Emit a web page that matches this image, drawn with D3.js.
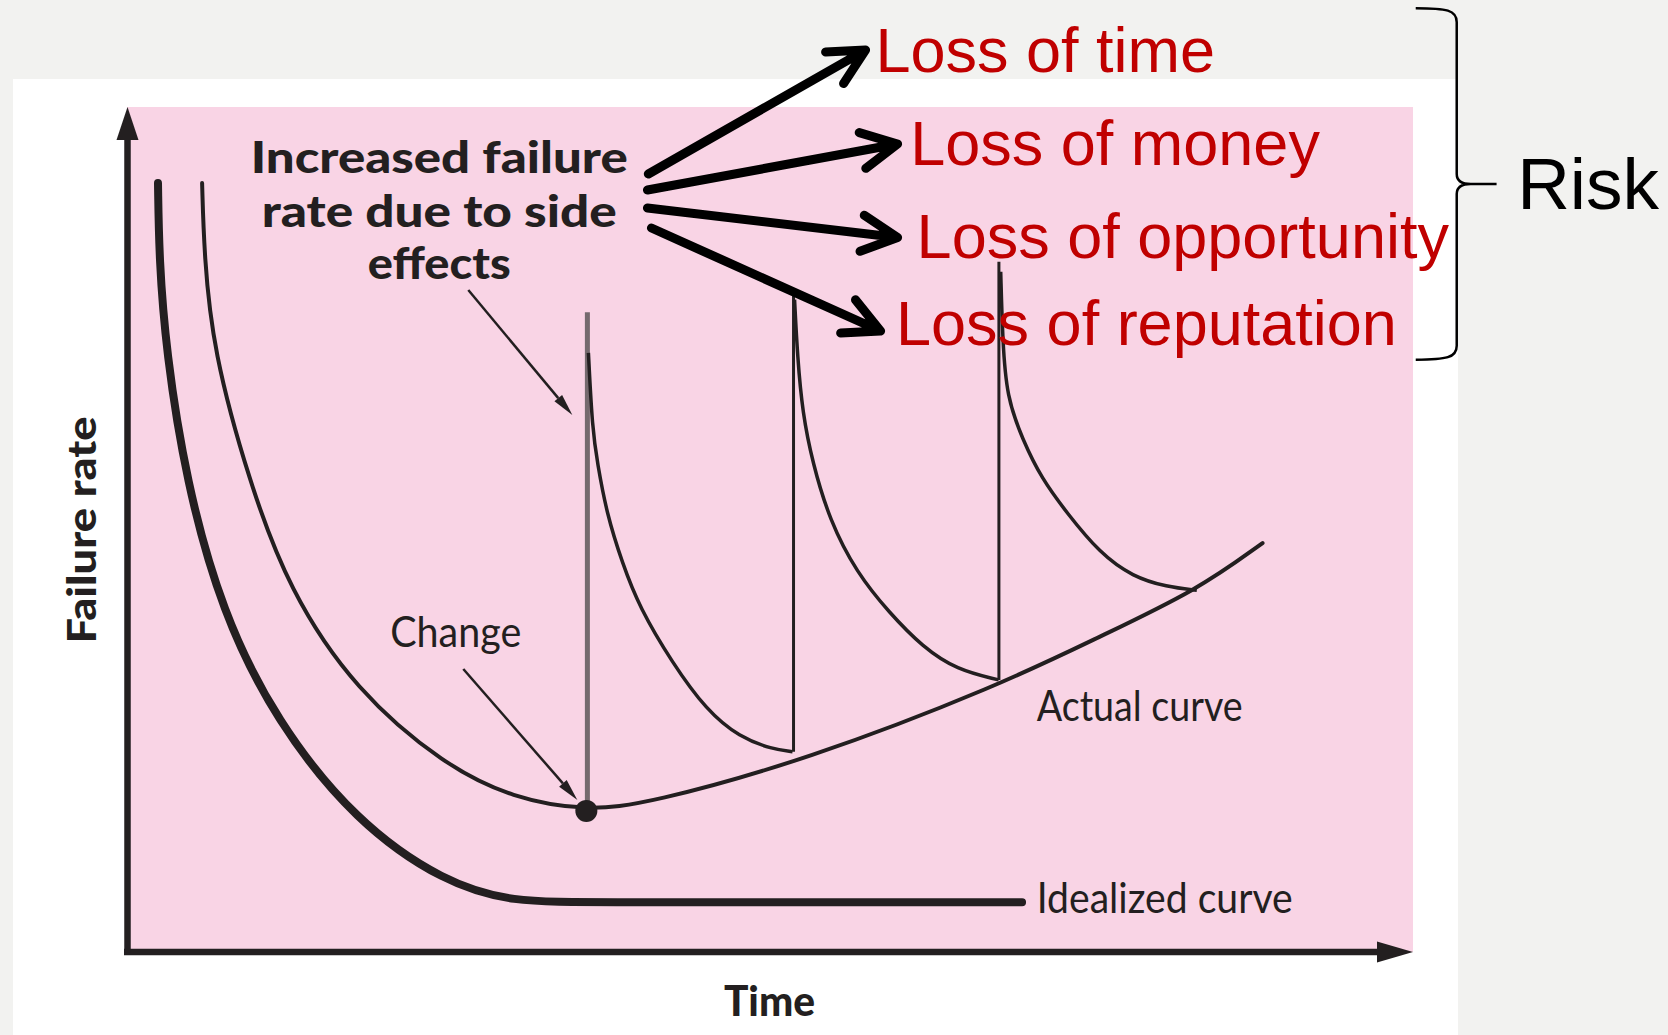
<!DOCTYPE html>
<html>
<head>
<meta charset="utf-8">
<script src="https://cdn.jsdelivr.net/npm/d3@7"></script>
<style>
  body { margin: 0; background: #f2f2f0; }
  svg { display: block; }
  .diag { font-family: Lato, "Open Sans", sans-serif; fill: #231f20; }
  .loss { font-family: "Liberation Sans", Arial, sans-serif; fill: #c00000; font-size: 63px; }
  .risk { font-family: "Liberation Sans", Arial, sans-serif; fill: #000; font-size: 73px; }
</style>
</head>
<body>
<script>
"use strict";

// [time, failure rate], both on a 0..100 scale
var idealized = [[2.41, 91.0], [2.5, 82.0], [3.03, 71.2], [4.59, 55.7], [7.39, 40.2], [11.6, 27.3],
  [17.8, 15.4], [24.7, 8.2], [30.0, 5.9], [36.0, 5.9], [69.6, 5.9]];

var actual = [[5.84, 91.0], [6.0, 82.5], [6.69, 71.2], [9.49, 55.7], [12.6, 42.8], [17.8, 30.9],
  [24.7, 22.1], [30.0, 18.2], [35.72, 16.7], [40.6, 17.6], [52.8, 22.7], [67.9, 31.6],
  [75.6, 37.3], [83.2, 42.8], [88.3, 48.4]];

var decay1 = [[35.88, 70.9], [36.19, 61.8], [36.58, 57.9], [37.28, 52.0], [38.52, 46.0], [39.84, 40.8],
  [42.41, 34.2], [45.06, 28.6], [47.63, 25.4], [50.19, 24.0], [51.75, 23.7]];
var decay2 = [[51.91, 77.2], [52.14, 70.4], [52.53, 63.8], [53.31, 57.9], [54.63, 51.1], [56.73, 44.9],
  [59.30, 40.1], [61.87, 36.1], [64.51, 33.4], [67.78, 32.2]];
var decay3 = [[67.94, 80.5], [68.09, 72.4], [68.4, 65.7], [69.65, 60.6], [71.13, 56.0], [73.07, 52.0],
  [75.64, 47.2], [78.21, 44.4], [80.86, 43.2], [83.19, 42.8]];

// [time, top, bottom] of each jump in failure rate
var spikes = [[35.8, 75.7, 16.7], [51.83, 77.8, 23.7], [67.8, 81.7, 32.2]];
var changePoint = [35.72, 16.7];

var headerLines = ["Increased failure", "rate due to side", "effects"];
var headerX = 24.28;
var headerY = [92.2, 85.8, 79.6];

var curveLabels = ["Change", "Actual curve", "Idealized curve"];
var curveLabelX = [20.47, 70.74, 70.74];
var curveLabelY = [36.1, 27.3, 4.6];

// thin pointers: [from, to]
var pointers = [[[26.54, 78.34], [34.63, 63.55]], [[26.15, 33.49], [35.02, 17.99]]];

var lossLabels = ["Loss of time", "Loss of money", "Loss of opportunity", "Loss of reputation"];
var lossFrom = [[40.54, 92.07], [40.47, 90.18], [40.47, 88.05], [40.78, 85.68]];
var lossTo = [[57.43, 106.74], [59.92, 95.62], [59.92, 84.56], [58.6, 73.49]];
var lossText = [[58.2, 104.1], [60.9, 93.1], [61.4, 82.1], [59.8, 71.8]];

var riskLabel = "Risk";
var riskBrace = [103.4, 111.7, 90.9, 70.1]; // x, top, middle, bottom
var riskAt = [108.1, 87.9];


var width = 1668;
var height = 1035;
var ink = "#231f20";

var x = d3.scaleLinear().domain([0, 100]).range([127, 1413]);
var y = d3.scaleLinear().domain([0, 100]).range([952, 107]);

var svg = d3.select("body").append("svg")
    .attr("width", width)
    .attr("height", height);

svg.append("rect")
    .attr("x", 13).attr("y", 79)
    .attr("width", 1445).attr("height", height - 79)
    .attr("fill", "#fff");

svg.append("rect")
    .attr("x", x(0)).attr("y", y(100))
    .attr("width", x(100) - x(0)).attr("height", y(0) - y(100))
    .attr("fill", "#f9d4e5");

// b-spline through the read points smooths out reading noise
var line = d3.line()
    .x(function (d) { return x(d[0]); })
    .y(function (d) { return y(d[1]); })
    .curve(d3.curveBasis);

// axes: only the domain lines, the arrow heads sit on top
var xAxisScale = x.copy().range([x(0) - 3.5, x(100) - 20]);
var yAxisScale = y.copy().range([y(0), y(100) + 20]);

svg.append("g")
    .attr("transform", "translate(0," + (y(0) - 0.5) + ")")
    .call(d3.axisBottom(xAxisScale).tickValues([]).tickSizeOuter(0));
svg.append("g")
    .attr("transform", "translate(" + x(0) + ",0)")
    .call(d3.axisLeft(yAxisScale).tickValues([]).tickSizeOuter(0));
svg.selectAll(".domain").attr("stroke", ink).attr("stroke-width", 6.5);

svg.append("path")
    .attr("d", "M" + x(100) + "," + y(0) + "L" + (x(100) - 36) + "," + (y(0) - 10.5) +
      "L" + (x(100) - 36) + "," + (y(0) + 10.5) + "Z")
    .attr("fill", ink);
svg.append("path")
    .attr("d", "M" + (x(0) + 0.5) + "," + y(100) + "L" + (x(0) - 10.5) + "," + (y(100) + 33) +
      "L" + (x(0) + 11.5) + "," + (y(100) + 33) + "Z")
    .attr("fill", ink);

// curves
svg.append("path").datum(idealized)
    .attr("d", line)
    .attr("fill", "none").attr("stroke", ink)
    .attr("stroke-width", 8).attr("stroke-linecap", "round");

svg.selectAll(".spike")
    .data(spikes)
    .enter()
      .append("line")
      .attr("class", "spike")
      .attr("x1", function (d) { return x(d[0]); })
      .attr("x2", function (d) { return x(d[0]); })
      .attr("y1", function (d) { return y(d[1]); })
      .attr("y2", function (d) { return y(d[2]); })
      .attr("stroke", function (d, i) { return i === 0 ? "#756a6e" : ink; })
      .attr("stroke-width", function (d, i) { return i === 0 ? 5 : 3; });

svg.selectAll(".decay")
    .data([decay1, decay2, decay3])
    .enter()
      .append("path")
      .attr("class", "decay")
      .attr("d", line)
      .attr("fill", "none").attr("stroke", ink)
      .attr("stroke-width", 3.5);

svg.append("path").datum(actual)
    .attr("d", line)
    .attr("fill", "none").attr("stroke", ink)
    .attr("stroke-width", 4).attr("stroke-linecap", "round");

svg.append("circle")
    .attr("cx", x(changePoint[0])).attr("cy", y(changePoint[1]))
    .attr("r", 11)
    .attr("fill", ink);

// thin pointer arrows
pointers.forEach(function (p) {
    var x1 = x(p[0][0]), y1 = y(p[0][1]), x2 = x(p[1][0]), y2 = y(p[1][1]);
    var a = Math.atan2(y2 - y1, x2 - x1);
    var len = 22, hw = 5;
    var bx = x2 - len * Math.cos(a), by = y2 - len * Math.sin(a);
    svg.append("line")
        .attr("x1", x1).attr("y1", y1).attr("x2", bx).attr("y2", by)
        .attr("stroke", ink).attr("stroke-width", 2.5);
    svg.append("path")
        .attr("d", "M" + x2 + "," + y2 +
          "L" + (bx + hw * Math.sin(a)) + "," + (by - hw * Math.cos(a)) +
          "L" + (bx - hw * Math.sin(a)) + "," + (by + hw * Math.cos(a)) + "Z")
        .attr("fill", ink);
});

// diagram labels, squeezed to the widths seen in the picture
function label(tx, ty, str, size, weight, len, anchorMiddle) {
    var px = x(tx);
    if (anchorMiddle) { px = px - len / 2; }
    return svg.append("text")
        .attr("class", "diag")
        .attr("x", px).attr("y", y(ty))
        .attr("font-size", size)
        .attr("font-weight", weight)
        .attr("textLength", len)
        .attr("lengthAdjust", "spacingAndGlyphs")
        .text(str);
}

var headerLen = [377, 355, 143];
headerLines.forEach(function (s, i) {
    label(headerX, headerY[i], s, 43, 900, headerLen[i], true);
});

var curveLabelLen = [131, 206, 256];
curveLabels.forEach(function (s, i) {
    label(curveLabelX[i], curveLabelY[i], s, 42, 400, curveLabelLen[i], false);
});

// axis titles
svg.append("text")
    .attr("class", "diag")
    .attr("x", (x(0) + x(100)) / 2 - 46).attr("y", y(0) + 64)
    .attr("font-size", 42).attr("font-weight", 900)
    .attr("textLength", 91).attr("lengthAdjust", "spacingAndGlyphs")
    .text("Time");

svg.append("text")
    .attr("class", "diag")
    .attr("transform", "translate(" + (x(0) - 31) + "," + ((y(0) + y(100)) / 2 + 114) + ") rotate(-90)")
    .attr("font-size", 40).attr("font-weight", 900)
    .attr("textLength", 227).attr("lengthAdjust", "spacingAndGlyphs")
    .text("Failure rate");

// thick arrows to the losses
lossLabels.forEach(function (s, i) {
    var x1 = x(lossFrom[i][0]), y1 = y(lossFrom[i][1]);
    var x2 = x(lossTo[i][0]), y2 = y(lossTo[i][1]);
    var back = Math.atan2(y1 - y2, x1 - x2);
    var wing = 40, spread = 27 * Math.PI / 180;
    svg.append("path")
        .attr("d", "M" + x1 + "," + y1 + "L" + x2 + "," + y2 +
          "M" + (x2 + wing * Math.cos(back + spread)) + "," + (y2 + wing * Math.sin(back + spread)) +
          "L" + x2 + "," + y2 +
          "L" + (x2 + wing * Math.cos(back - spread)) + "," + (y2 + wing * Math.sin(back - spread)))
        .attr("fill", "none").attr("stroke", "#000")
        .attr("stroke-width", 9)
        .attr("stroke-linecap", "round").attr("stroke-linejoin", "round");

    svg.append("text")
        .attr("class", "loss")
        .attr("x", x(lossText[i][0])).attr("y", y(lossText[i][1]))
        .text(s);
});

// brace round the four losses
var bx = x(riskBrace[0]), bTop = y(riskBrace[1]), bMid = y(riskBrace[2]), bBot = y(riskBrace[3]);
var bTip = x(106.5);
svg.append("path")
    .attr("d", "M" + (bx - 41) + "," + bTop +
      "C" + (bx - 10) + "," + bTop + " " + bx + "," + (bTop + 2) + " " + bx + "," + (bTop + 14) +
      "L" + bx + "," + (bMid - 10) +
      "Q" + bx + "," + bMid + " " + (bx + 14) + "," + bMid +
      "L" + bTip + "," + bMid +
      "M" + (bx + 14) + "," + bMid +
      "Q" + bx + "," + bMid + " " + bx + "," + (bMid + 10) +
      "L" + bx + "," + (bBot - 14) +
      "C" + bx + "," + (bBot - 2) + " " + (bx - 10) + "," + bBot + " " + (bx - 41) + "," + bBot)
    .attr("fill", "none").attr("stroke", "#000").attr("stroke-width", 2.5);

svg.append("text")
    .attr("class", "risk")
    .attr("x", x(riskAt[0])).attr("y", y(riskAt[1]))
    .text(riskLabel);
</script>
</body>
</html>
